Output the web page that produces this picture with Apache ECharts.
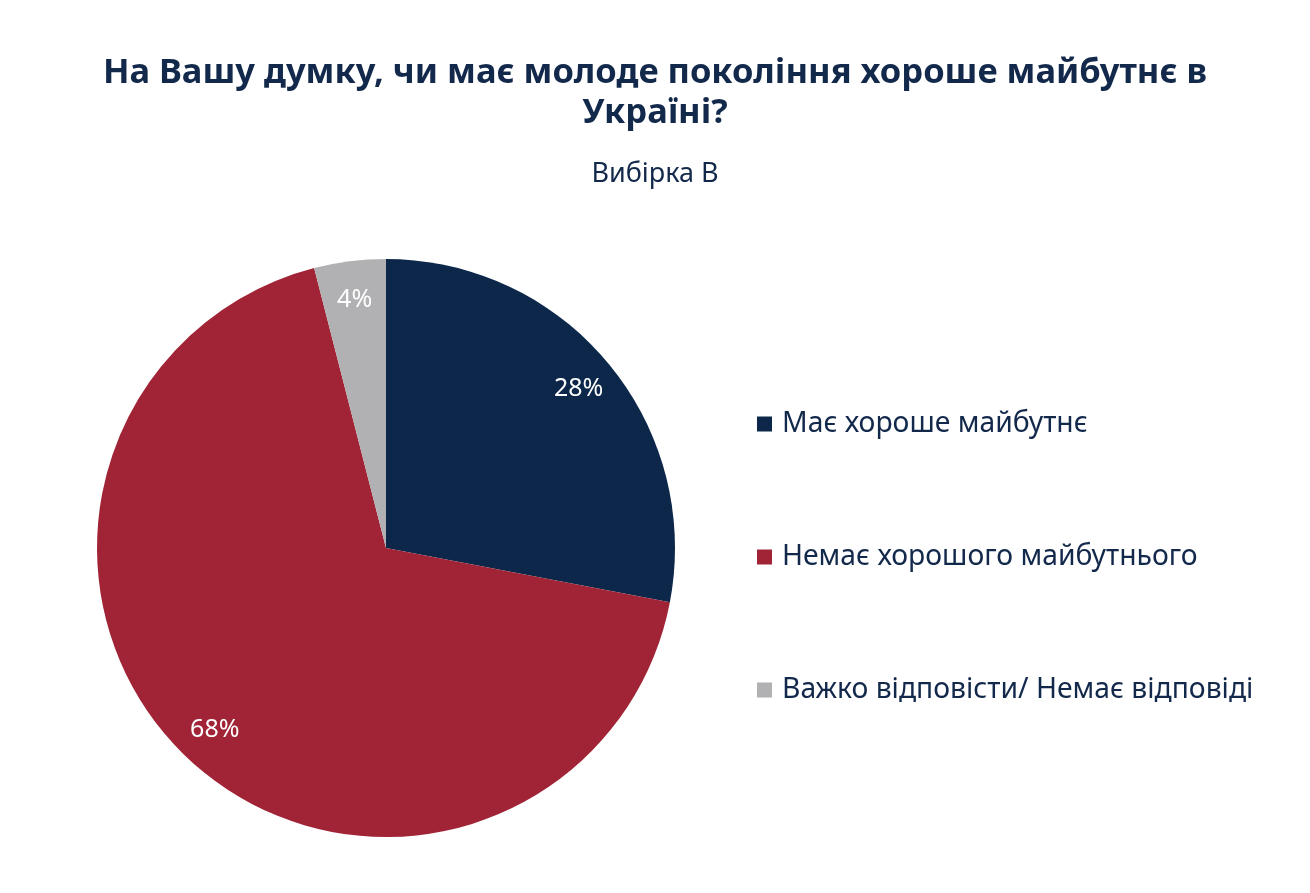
<!DOCTYPE html>
<html>
<head>
<meta charset="utf-8">
<script src="https://cdn.jsdelivr.net/npm/echarts@6/dist/echarts.min.js"></script>
<style>
html,body{margin:0;padding:0;background:#fff;}
#chart{width:1310px;height:893px;}
</style>
</head>
<body>
<div id="chart"></div>
<script>
const titleText = 'На Вашу думку, чи має молоде покоління хороше майбутнє в\nУкраїні?';
const subtitleText = 'Вибірка В';
const categories = ['Має хороше майбутнє', 'Немає хорошого майбутнього', 'Важко відповісти/ Немає відповіді'];
const values = [28, 68, 4];
const colors = ['#0c2749', '#a02436', '#b1b1b3'];

const R = 289;
const font = 'Noto Sans';
const textColor = '#13294b';

const data = categories.map((c, i) => ({ name: c, value: values[i], itemStyle: { color: colors[i] } }));

const chart = echarts.init(document.getElementById('chart'), null, { renderer: 'canvas' });
chart.setOption({
  animation: false,
  backgroundColor: '#ffffff',
  title: [
    {
      text: titleText,
      left: 'center',
      top: 48,
      textStyle: { fontFamily: font, fontSize: 34.5, fontWeight: 'bold', color: textColor, lineHeight: 40 }
    },
    {
      text: subtitleText,
      left: 'center',
      top: 156,
      textStyle: { fontFamily: font, fontSize: 27, fontWeight: 'normal', color: textColor }
    }
  ],
  legend: {
    orient: 'vertical',
    left: 757,
    top: 410,
    padding: 0,
    itemWidth: 15,
    itemHeight: 15,
    itemGap: 105,
    icon: 'rect',
    data: categories,
    textStyle: { fontFamily: font, fontSize: 28.3, color: textColor, lineHeight: 28, padding: [0, 0, 0, 5] }
  },
  series: [
    {
      type: 'pie',
      center: [386, 548],
      radius: [0, R],
      startAngle: 90,
      clockwise: true,
      label: { show: false },
      labelLine: { show: false },
      emphasis: { disabled: true },
      data: data
    },
    {
      type: 'pie',
      center: [386, 548],
      radius: [R * 0.71, R],
      startAngle: 90,
      clockwise: true,
      silent: true,
      legendHoverLink: false,
      itemStyle: { color: 'rgba(0,0,0,0)' },
      label: {
        show: true,
        position: 'inside',
        formatter: '{c}%',
        fontFamily: font,
        fontSize: 25,
        color: '#ffffff'
      },
      labelLine: { show: false },
      emphasis: { disabled: true },
      data: categories.map((c, i) => ({ name: c + ' ', value: values[i] })),
      tooltip: { show: false }
    }
  ]
});
</script>
</body>
</html>
